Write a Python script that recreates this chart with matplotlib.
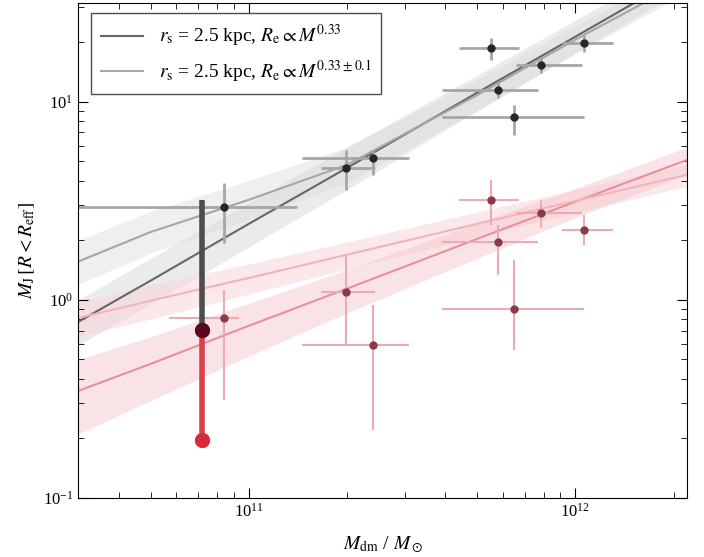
import numpy as np
import matplotlib
matplotlib.use('Agg')
import matplotlib.pyplot as plt

plt.rcParams['font.family'] = 'Liberation Serif'
plt.rcParams['mathtext.fontset'] = 'stix'

# halo masses of the galaxies (Msun)
m_halo = [8.4e10, 1.98e11, 2.40e11, 5.5e11, 5.8e11, 6.5e11, 7.83e11, 1.06e12]
m_halo_lo = [3.0e10, 1.66e11, 1.45e11, 4.4e11, 3.9e11, 3.9e11, 6.6e11, 9.1e11]
m_halo_hi = [1.40e11, 2.44e11, 3.1e11, 6.7e11, 7.7e11, 1.06e12, 1.05e12, 1.3e12]
# the red point of the first galaxy has its own (smaller) x range
m_halo_red_lo = [5.7e10, 1.66e11, 1.45e11, 4.4e11, 3.9e11, 3.9e11, 6.6e11, 9.1e11]
m_halo_red_hi = [9.3e10, 2.44e11, 3.1e11, 6.7e11, 7.7e11, 1.06e12, 1.05e12, 1.3e12]

# black: total mass inside R_eff
m_black = [2.95, 4.64, 5.21, 18.7, 11.5, 8.4, 15.4, 19.9]
m_black_lo = [1.94, 3.60, 4.28, 16.3, 10.5, 6.81, 14.0, 17.9]
m_black_hi = [3.90, 5.73, 5.73, 21.0, 12.6, 9.66, 16.9, 21.8]

# red: dark matter inside R_eff
m_red = [0.81, 1.10, 0.593, 3.20, 1.96, 0.90, 2.75, 2.26]
m_red_lo = [0.313, 0.593, 0.22, 2.39, 1.34, 0.558, 2.31, 1.90]
m_red_hi = [1.12, 1.69, 0.944, 4.04, 2.39, 1.59, 3.20, 2.69]

# Milky Way-like range
mw_mass = 7.2e10
mw_black = [3.20, 0.705]
mw_red = [0.705, 0.196]

# model curves
m_grid = [3e10, 5e10, 1e11, 2e11, 5e11, 1e12, 2.2e12]
black_a = [0.774, 1.25, 2.42, 4.64, 11.1, 21.3, 44.9]
black_a_lo = [0.59, 0.95, 1.85, 3.6, 9.0, 17.6, 38.0]
black_a_hi = [1.0, 1.62, 3.1, 5.9, 13.6, 25.8, 53.0]
black_b = [1.56, 2.20, 3.20, 4.81, 10.8, 20.6, 41.3]
black_b_lo = [1.2, 1.72, 2.55, 3.9, 9.0, 17.5, 35.5]
black_b_hi = [2.0, 2.8, 4.0, 5.9, 12.9, 24.2, 48.0]
red_a = [0.347, 0.475, 0.74, 1.14, 2.03, 3.13, 5.09]
red_a_lo = [0.21, 0.31, 0.52, 0.86, 1.62, 2.6, 4.3]
red_a_hi = [0.50, 0.65, 0.96, 1.42, 2.45, 3.65, 5.9]
red_b = [0.81, 0.99, 1.29, 1.69, 2.42, 3.16, 4.28]
red_b_lo = [0.65, 0.80, 1.07, 1.43, 2.08, 2.75, 3.75]
red_b_hi = [0.98, 1.19, 1.52, 1.96, 2.78, 3.6, 4.85]

labels = [r'$r_{\rm s}$ = 2.5 kpc, $R_{\rm e} \propto M^{0.33}$',
          r'$r_{\rm s}$ = 2.5 kpc, $R_{\rm e} \propto M^{0.33 \pm 0.1}$']

fig = plt.figure(figsize=(7.04, 5.57), dpi=100)
ax = fig.add_axes([0.111, 0.106, 0.865, 0.889])

ax.fill_between(m_grid, black_b_lo, black_b_hi, color='0.88', alpha=0.5, lw=0)
ax.fill_between(m_grid, black_a_lo, black_a_hi, color='0.85', alpha=0.5, lw=0)
ax.fill_between(m_grid, red_b_lo, red_b_hi, color='#f9d3d8', alpha=0.5, lw=0)
ax.fill_between(m_grid, red_a_lo, red_a_hi, color='#f7c8ce', alpha=0.5, lw=0)
ax.plot(m_grid, black_a, color='0.4', lw=1.5, label=labels[0])
ax.plot(m_grid, black_b, color='0.65', lw=1.5, label=labels[1])
ax.plot(m_grid, red_a, color='#e8909a', lw=1.5)
ax.plot(m_grid, red_b, color='#f2b4bb', lw=1.5)

m_halo = np.array(m_halo)
mb = np.array(m_black)
ax.errorbar(m_halo, mb,
            xerr=[m_halo - np.array(m_halo_lo), np.array(m_halo_hi) - m_halo],
            yerr=[mb - np.array(m_black_lo), np.array(m_black_hi) - mb],
            fmt='o', ms=5, color='0.15', ecolor='0.65', elinewidth=2, capsize=0)
mr = np.array(m_red)
ax.errorbar(m_halo, mr,
            xerr=[m_halo - np.array(m_halo_red_lo), np.array(m_halo_red_hi) - m_halo],
            yerr=[mr - np.array(m_red_lo), np.array(m_red_hi) - mr],
            fmt='o', ms=5, color='#8a3a48', ecolor='#eeaab2', elinewidth=1.5, capsize=0)

ax.plot([mw_mass, mw_mass], mw_black, color='0.3', lw=4, solid_capstyle='butt')
ax.plot([mw_mass, mw_mass], mw_red, color='#d8404c', lw=4, solid_capstyle='butt')
ax.plot(mw_mass, mw_black[1], 'o', ms=10, color='#5a0a18')
ax.plot(mw_mass, mw_red[1], 'o', ms=10, color='#d82a3a')

ax.set_xscale('log')
ax.set_yscale('log')
ax.set_xlim(3e10, 2.2e12)
ax.set_ylim(0.1, 31.6)
ax.tick_params(which='both', direction='in', top=True, right=True, labelsize=12)
ax.tick_params(which='major', length=7)
ax.tick_params(which='minor', length=4)
ax.set_xlabel(r'$M_{\rm dm}$ / $M_\odot$', fontsize=14, labelpad=10)
ax.set_ylabel(r'$M_{\rm J}\,[R < R_{\rm eff}]$', fontsize=14)

ax.legend(loc='upper left', fontsize=14, frameon=True, fancybox=False,
          edgecolor='0.3', framealpha=1, handlelength=2.2, labelspacing=0.45,
          borderpad=0.5, bbox_to_anchor=(0.005, 0.998))

fig.savefig('out.png', dpi=100)
